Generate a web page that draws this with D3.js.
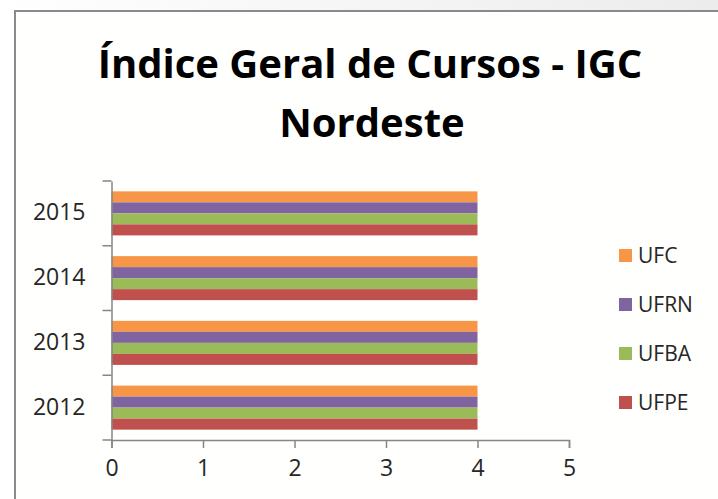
<!DOCTYPE html>
<html>
<head>
<meta charset="utf-8">
<script src="https://cdn.jsdelivr.net/npm/d3@7"></script>
<style>
  body { margin: 0; background: #fff; }
  svg { display: block; }
  text { font-family: "Open Sans", sans-serif; fill: #262626; }
</style>
</head>
<body>
<script>
// Chart data
var years = ["2012", "2013", "2014", "2015"]
var seriesNames = ["UFC", "UFRN", "UFBA", "UFPE"]
var ufc  = [4, 4, 4, 4]
var ufrn = [4, 4, 4, 4]
var ufba = [4, 4, 4, 4]
var ufpe = [4, 4, 4, 4]
var xTicks = [0, 1, 2, 3, 4, 5]
var colors = ["#F79646", "#8064A2", "#9BBB59", "#C0504D"]

var values = [ufc, ufrn, ufba, ufpe]
var data = years.map((yr, i) => ({
  year: yr,
  vals: seriesNames.map((s, j) => ({ name: s, value: values[j][i] }))
}))

var W = 718, H = 499
var svg = d3.select("body").append("svg")
    .attr("width", W)
    .attr("height", H)

// top strip gradient + frame
var defs = svg.append("defs")
var grad = defs.append("linearGradient").attr("id", "topg")
grad.append("stop").attr("offset", "0%").attr("stop-color", "#ffffff")
grad.append("stop").attr("offset", "100%").attr("stop-color", "#ececec")
svg.append("rect").attr("x", 0).attr("y", 0).attr("width", W).attr("height", 11)
    .attr("fill", "url(#topg)")
svg.append("rect").attr("x", 15).attr("y", 11).attr("width", W).attr("height", H)
    .attr("fill", "#fffffd").attr("stroke", "#8a8a8a").attr("stroke-width", 2)

// Title, fitted to the reference width
var t1 = svg.append("text").attr("x", 370).attr("y", 78)
    .attr("text-anchor", "middle").attr("font-weight", "bold")
    .attr("font-size", 34).style("fill", "#000")
    .text("Índice Geral de Cursos - IGC")
var fs = 34 * 545 / t1.node().getComputedTextLength()
t1.attr("font-size", fs)
svg.append("text").attr("x", 372).attr("y", 137)
    .attr("text-anchor", "middle").attr("font-weight", "bold")
    .attr("font-size", fs).style("fill", "#000")
    .text("Nordeste")

// Scales
var mLeft = 111.5, mRight = 569, mTop = 181, mBottom = 440
var x = d3.scaleLinear().domain([0, 5]).range([mLeft, mRight])
var pad = 0.32
var y0 = d3.scaleBand().domain(years.slice().reverse()).range([mTop, mBottom])
    .paddingInner(pad).paddingOuter(pad / 2)
var y1 = d3.scaleBand().domain(seriesNames).range([0, y0.bandwidth()])
var color = d3.scaleOrdinal().domain(seriesNames).range(colors)

// Bars
var groups = svg.selectAll(".grp")
    .data(data)
    .enter().append("g")
    .attr("class", "grp")
    .attr("transform", d => "translate(0," + y0(d.year) + ")")
groups.selectAll("rect")
    .data(d => d.vals)
    .enter().append("rect")
    .attr("x", x(0))
    .attr("y", d => y1(d.name))
    .attr("width", d => x(d.value) - x(0))
    .attr("height", y1.bandwidth())
    .attr("fill", d => color(d.name))

// X axis
var xAxis = d3.axisBottom(x).tickValues(xTicks).tickSize(8).tickFormat(d3.format("d"))
var gx = svg.append("g")
    .attr("transform", "translate(0," + mBottom + ")")
    .call(xAxis)
gx.select(".domain").attr("stroke", "#868686").attr("stroke-width", 1.5)
gx.selectAll(".tick line").attr("stroke", "#868686").attr("stroke-width", 1.5)
gx.selectAll(".tick text").attr("font-size", 23).attr("dy", 0).attr("y", 36)
    .style("fill", "#262626").attr("font-family", "'Open Sans', sans-serif")

// Y axis: labels at band centres, ticks at band boundaries
var gy = svg.append("g")
    .attr("transform", "translate(" + mLeft + ",0)")
    .call(d3.axisLeft(y0).tickSize(0).tickPadding(26))
gy.select(".domain").attr("stroke", "#868686").attr("stroke-width", 1.5)
gy.selectAll(".tick text").attr("font-size", 23).attr("dy", "0.3em")
    .style("fill", "#262626").attr("font-family", "'Open Sans', sans-serif")
var bounds = d3.range(years.length + 1).map(i => mTop + i * y0.step())
gy.selectAll(".bound")
    .data(bounds)
    .enter().append("line")
    .attr("class", "bound")
    .attr("x1", -9).attr("x2", 0)
    .attr("y1", d => d).attr("y2", d => d)
    .attr("stroke", "#868686").attr("stroke-width", 1.5)

// Legend
var legend = svg.selectAll(".leg")
    .data(seriesNames)
    .enter().append("g")
    .attr("class", "leg")
    .attr("transform", (d, i) => "translate(619," + (256 + i * 49) + ")")
legend.append("rect")
    .attr("x", 0).attr("y", -7).attr("width", 13).attr("height", 13)
    .attr("fill", d => color(d))
legend.append("text")
    .attr("x", 19).attr("y", 0).attr("dy", "0.35em")
    .attr("font-size", 21)
    .text(d => d)
</script>
</body>
</html>
